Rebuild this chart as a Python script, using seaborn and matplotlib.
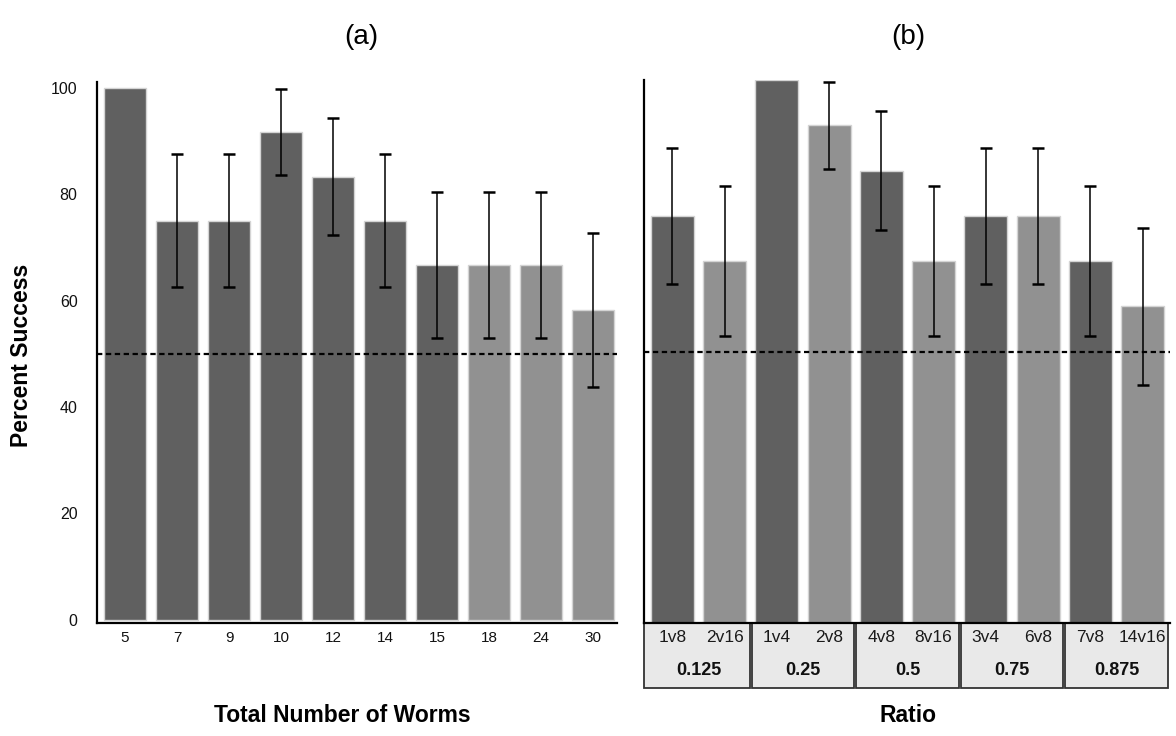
import numpy as np
import pandas as pd
import seaborn as sns
import matplotlib.pyplot as plt
from matplotlib.patches import Rectangle
from matplotlib.transforms import blended_transform_factory

# Panel (a): total number of worms
worm_labels = ['5', '7', '9', '10', '12', '14', '15', '18', '24', '30']
worm_success = [100, 75, 75, 91.7, 83.3, 75, 66.7, 66.7, 66.7, 58.3]
worm_err = [np.nan, 12.5, 12.5, 8, 11, 12.5, 13.8, 13.8, 13.8, 14.5]
worm_shade = ['dark'] * 7 + ['light'] * 3

# Panel (b): ratio
ratio_labels = ['1v8', '2v16', '1v4', '2v8', '4v8', '8v16', '3v4', '6v8', '7v8', '14v16']
ratio_success = [75, 66.7, 100, 91.7, 83.3, 66.7, 75, 75, 66.7, 58.3]
ratio_err = [12.5, 13.8, np.nan, 8, 11, 13.8, 12.5, 12.5, 13.8, 14.5]
ratio_shade = ['dark', 'light'] * 5
ratio_groups = ['0.125', '0.25', '0.5', '0.75', '0.875']

shade_colors = {'dark': '#606060', 'light': '#919191'}

sns.set_style('white')
plt.rcParams['font.family'] = ['Liberation Sans', 'DejaVu Sans']
plt.rcParams['text.color'] = 'black'

W, H = 1176, 736
fig = plt.figure(figsize=(W / 100, H / 100), dpi=100)
ax1 = fig.add_axes([97 / W, 1 - 623 / H, 520 / W, 541 / H])
ax2 = fig.add_axes([644 / W, 1 - 623 / H, 526 / W, 543 / H])


def draw_panel(ax, labels, values, errs, shades):
    df = pd.DataFrame({'label': labels, 'value': values, 'shade': shades})
    sns.barplot(data=df, x='label', y='value', hue='shade', palette=shade_colors,
                order=labels, legend=False, width=0.82, dodge=False,
                edgecolor='#d4d4d4', linewidth=1, ax=ax)
    pos = np.arange(len(labels))
    e = np.array(errs, dtype=float)
    ok = ~np.isnan(e)
    ax.errorbar(pos[ok], np.array(values)[ok], yerr=e[ok], fmt='none',
                ecolor='black', elinewidth=1.1, capsize=4.5, capthick=1.8, zorder=4)
    ax.axhline(50, color='black', lw=1.6, ls=(0, (2.4, 1.6)), zorder=5)
    for s in ['top', 'right']:
        ax.spines[s].set_visible(False)
    for s in ['left', 'bottom']:
        ax.spines[s].set_color('black')
        ax.spines[s].set_linewidth(1.6)
    ax.set_xlabel('')
    ax.set_ylabel('')
    ax.tick_params(length=0)


draw_panel(ax1, worm_labels, worm_success, worm_err, worm_shade)
ax1.set_xlim(-0.54, 9.46)
ax1.set_ylim(-0.6, 101.1)
ax1.set_yticks([0, 20, 40, 60, 80, 100])
ax1.tick_params(axis='y', labelsize=11.5, pad=14, labelcolor='#111111')
ax1.tick_params(axis='x', labelsize=11, pad=6, labelcolor='#111111')

draw_panel(ax2, ratio_labels, ratio_success, ratio_err, ratio_shade)
ax2.set_xlim(-0.544, 9.525)
ax2.set_ylim(0, 100)
ax2.set_yticks([])
ax2.set_xticks(np.arange(len(ratio_labels)))
ax2.set_xticklabels([])

# ratio table under panel (b)
tr = blended_transform_factory(ax2.transData, ax2.transAxes)
for i, grp in enumerate(ratio_groups):
    left = 2 * i - 0.5 + 0.02
    if i == 0:
        left = -0.54
    right = 2 * i + 1.5 - 0.02
    ax2.add_patch(Rectangle((left, -0.12), right - left, 0.12, transform=tr,
                            facecolor='#e9e9e9', edgecolor='#333333', lw=1.3,
                            clip_on=False, zorder=0))
    for j in range(2):
        ax2.text(2 * i + j, -0.026, ratio_labels[2 * i + j], transform=tr,
                 ha='center', va='center', fontsize=12.5, color='#1a1a1a')
    ax2.text(2 * i + 0.5, -0.087, grp, transform=tr, ha='center', va='center',
             fontsize=13, fontweight='bold', color='#111111')

# titles and axis labels
fig.text(361 / W, 1 - 37 / H, '(a)', ha='center', va='center', fontsize=20)
fig.text(908 / W, 1 - 37 / H, '(b)', ha='center', va='center', fontsize=20)
fig.text(22 / W, 1 - 355 / H, 'Percent Success', rotation=90, ha='center',
         va='center', fontsize=16.5, fontweight='bold')
fig.text(342 / W, 1 - 715 / H, 'Total Number of Worms', ha='center', va='center',
         fontsize=16.5, fontweight='bold')
fig.text(908 / W, 1 - 715 / H, 'Ratio', ha='center', va='center',
         fontsize=16.5, fontweight='bold')

fig.savefig('out.png', dpi=100)
